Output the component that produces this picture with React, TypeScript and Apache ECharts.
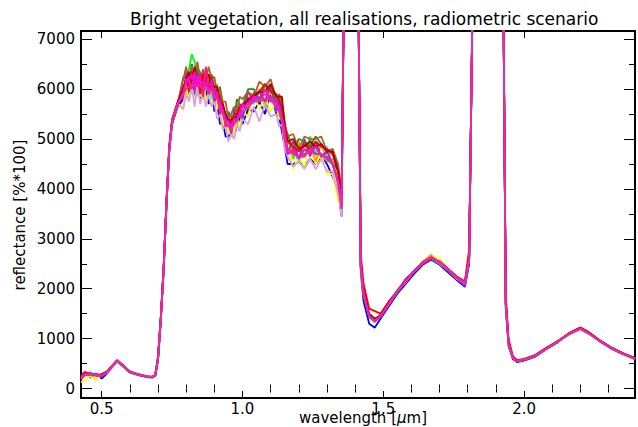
import React, { useEffect, useRef } from "react";
import * as echarts from "echarts";

const TITLE = "Bright vegetation, all realisations, radiometric scenario";
const Y_LABEL = "reflectance [%*100]";

const X_MAJOR = [0.5, 1.0, 1.5, 2.0];
const X_MINOR = [0.6, 0.7, 0.8, 0.9, 1.1, 1.2, 1.3, 1.4, 1.6, 1.7, 1.8, 1.9, 2.1, 2.2, 2.3];
const Y_MAJOR = [0, 1000, 2000, 3000, 4000, 5000, 6000, 7000];
const Y_MINOR = [500, 1500, 2500, 3500, 4500, 5500, 6500];

const WAVELENGTH = [
  0.427, 0.44, 0.46, 0.48, 0.5, 0.52, 0.54, 0.555, 0.57, 0.6, 0.63, 0.66, 0.68, 0.69,
  0.7, 0.71, 0.72, 0.73, 0.74, 0.75, 0.77,
  0.79, 0.8, 0.81, 0.82, 0.83, 0.84, 0.85, 0.86, 0.87, 0.88,
  0.89, 0.9, 0.91, 0.92, 0.93, 0.94, 0.95, 0.96, 0.97, 0.98,
  0.99, 1.0, 1.02, 1.04, 1.06, 1.08, 1.1, 1.12, 1.13, 1.14,
  1.15, 1.16, 1.18, 1.2, 1.22, 1.24, 1.26, 1.28, 1.3, 1.32,
  1.34, 1.352,
  1.362, 1.41,
  1.42, 1.43, 1.45, 1.47, 1.49, 1.52, 1.55, 1.58, 1.61, 1.64, 1.67, 1.7, 1.73, 1.76, 1.79, 1.805,
  1.82, 1.925,
  1.935, 1.945, 1.96, 1.975, 2.0, 2.04, 2.08, 2.12, 2.16, 2.2, 2.23, 2.27, 2.31, 2.35, 2.394,
];

const REAL_GREEN = [
  200, 250, 310, 290, 240, 320, 460, 550, 480, 350, 270, 240, 225, 255,
  580, 1380, 2380, 3680, 4780, 5320, 5680,
  6050, 5900, 6400, 6700, 6550, 6050, 6350, 6200, 5900, 6300,
  5950, 6100, 5800, 5950, 5400, 5500, 5050, 5400, 5300, 5650,
  5350, 5700, 5500, 5950, 5700, 6100, 5800, 5800, 5450, 5650,
  5000, 5100, 4600, 4900, 4650, 5050, 4700, 4900, 4550, 4600,
  4300, 3550,
  9000, 9000,
  2400, 1850, 1420, 1330, 1470, 1720, 1980, 2170, 2330, 2540, 2650, 2500, 2360, 2200, 2100, 2550,
  9000, 9000,
  1650, 880, 600, 540, 570, 650, 790, 930, 1090, 1200, 1100, 940, 800, 690, 590,
];

const REAL_BLUE = [
  240, 330, 220, 300, 200, 310, 450, 540, 470, 320, 270, 230, 220, 250,
  560, 1350, 2350, 3650, 4750, 5300, 5650,
  5800, 6250, 5800, 6500, 5850, 6250, 5750, 6350, 6000, 5700,
  6250, 5550, 5750, 5300, 5350, 5050, 5050, 5100, 5050, 5250,
  5450, 5300, 5600, 5550, 5750, 5500, 5950, 5500, 5450, 5150,
  4850, 4500, 4500, 4550, 4450, 4600, 4500, 4650, 4500, 4250,
  3950, 3450,
  9000, 9000,
  2350, 1750, 1300, 1220, 1400, 1650, 1900, 2100, 2300, 2480, 2580, 2480, 2330, 2180, 2040, 2500,
  9000, 9000,
  1600, 850, 590, 530, 560, 640, 790, 930, 1100, 1210, 1120, 960, 820, 710, 610,
];

const REAL_CYAN = [
  210, 270, 330, 260, 300, 340, 480, 560, 500, 340, 290, 250, 235, 265,
  620, 1420, 2420, 3720, 4820, 5360, 5720,
  6000, 5850, 6200, 5900, 6250, 5850, 6150, 5850, 6000, 6150,
  5800, 6000, 5650, 5750, 5300, 5550, 5100, 5300, 5250, 5600,
  5550, 5450, 5800, 5700, 6000, 5650, 6000, 5550, 5700, 5400,
  5150, 4700, 4850, 4500, 4900, 4700, 4800, 4600, 4850, 4450,
  4250, 3500,
  9000, 9000,
  2450, 1900, 1480, 1380, 1480, 1690, 1960, 2130, 2370, 2510, 2600, 2500, 2370, 2210, 2080, 2600,
  9000, 9000,
  1700, 900, 610, 550, 580, 660, 800, 950, 1100, 1200, 1100, 950, 810, 700, 600,
];

const REAL_YELLOW = [
  120, 180, 250, 170, 280, 320, 460, 550, 480, 330, 280, 240, 230, 255,
  590, 1390, 2390, 3690, 4790, 5340, 5690,
  5650, 6100, 5750, 6250, 5700, 6150, 5850, 6200, 5750, 5950,
  5650, 5950, 5600, 5700, 5250, 5500, 5100, 5200, 5050, 5450,
  5200, 5550, 5450, 5900, 5600, 5850, 5550, 5750, 5400, 5450,
  4800, 4900, 4400, 4650, 4450, 4800, 4500, 4700, 4300, 4300,
  3750, 3650,
  9000, 9000,
  2450, 1900, 1460, 1360, 1460, 1710, 1960, 2160, 2360, 2560, 2640, 2600, 2400, 2240, 2140, 2600,
  9000, 9000,
  1700, 900, 620, 560, 590, 670, 810, 950, 1110, 1220, 1110, 950, 810, 700, 600,
];

const REAL_ORANGE = [
  250, 300, 280, 270, 260, 340, 470, 560, 490, 340, 280, 245, 230, 260,
  610, 1410, 2410, 3710, 4810, 5360, 5710,
  6100, 6000, 6350, 6000, 6400, 6050, 6300, 5800, 6250, 6250,
  5900, 5950, 6100, 5600, 5700, 5250, 5450, 5050, 5450, 5300,
  5700, 5500, 5850, 5750, 6000, 5700, 5950, 5600, 5800, 5600,
  4950, 5050, 4650, 4950, 4650, 4950, 4550, 4900, 4600, 4750,
  4050, 3800,
  9000, 9000,
  2450, 1920, 1460, 1360, 1460, 1700, 1940, 2150, 2340, 2530, 2680, 2500, 2370, 2200, 2100, 2600,
  9000, 9000,
  1700, 900, 620, 550, 580, 660, 800, 940, 1100, 1210, 1110, 950, 810, 700, 600,
];

const REAL_PURPLE = [
  230, 280, 300, 270, 250, 320, 470, 560, 490, 340, 280, 240, 230, 260,
  600, 1400, 2400, 3700, 4800, 5350, 5700,
  5850, 6350, 6050, 6350, 5900, 6400, 5950, 6150, 6350, 5850,
  6150, 5700, 6050, 5550, 5650, 5300, 5500, 5100, 5600, 5350,
  5650, 5400, 5950, 5750, 5950, 5750, 6100, 5550, 5800, 5350,
  5300, 4750, 4950, 4600, 5000, 4650, 4950, 4650, 4750, 4500,
  4400, 3600,
  9000, 9000,
  2450, 1900, 1440, 1350, 1440, 1690, 1930, 2150, 2340, 2510, 2610, 2530, 2380, 2220, 2050, 2600,
  9000, 9000,
  1700, 900, 620, 550, 580, 660, 800, 940, 1100, 1210, 1110, 950, 810, 700, 600,
];

const REAL_PLUM = [
  250, 260, 300, 290, 270, 320, 460, 550, 490, 340, 285, 245, 230, 260,
  600, 1400, 2400, 3700, 4800, 5350, 5700,
  5600, 5900, 5750, 6050, 5650, 6100, 5700, 5950, 5650, 5900,
  5650, 5750, 5400, 5500, 5200, 5250, 4950, 5100, 5000, 5300,
  5150, 5400, 5300, 5650, 5350, 5700, 5450, 5500, 5250, 5300,
  4800, 4650, 4450, 4550, 4400, 4600, 4400, 4600, 4350, 4350,
  3900, 3450,
  9000, 9000,
  2400, 1880, 1440, 1340, 1440, 1690, 1940, 2140, 2340, 2510, 2610, 2520, 2380, 2210, 2110, 2600,
  9000, 9000,
  1690, 890, 610, 545, 575, 655, 795, 935, 1095, 1205, 1105, 945, 805, 695, 595,
];

const REAL_DARKGREEN = [
  270, 310, 280, 300, 250, 340, 470, 560, 490, 340, 280, 240, 230, 260,
  600, 1400, 2400, 3700, 4800, 5350, 5700,
  6250, 6200, 6050, 6500, 6100, 6450, 6300, 6000, 6400, 6050,
  6300, 6050, 5800, 6050, 5700, 5400, 5550, 5450, 5300, 5800,
  5700, 5650, 6000, 6000, 5800, 6100, 6000, 5750, 5850, 5650,
  5250, 5100, 4800, 5000, 4950, 4850, 5050, 4900, 4750, 4800,
  4400, 3800,
  9000, 9000,
  2450, 1900, 1450, 1350, 1450, 1700, 1950, 2150, 2350, 2520, 2620, 2520, 2380, 2220, 2120, 2600,
  9000, 9000,
  1700, 900, 620, 550, 580, 660, 800, 940, 1100, 1210, 1110, 950, 810, 700, 600,
];

const REAL_BROWN = [
  220, 290, 290, 280, 260, 330, 470, 560, 490, 340, 280, 240, 230, 260,
  600, 1400, 2400, 3700, 4800, 5350, 5700,
  6200, 6450, 6150, 6450, 6300, 6550, 6150, 6400, 6200, 6450,
  6200, 6250, 5900, 6000, 5750, 5750, 5400, 5500, 5650, 5550,
  5850, 5800, 5950, 5850, 6150, 6050, 6200, 5800, 5900, 5750,
  5350, 5050, 5100, 4800, 5050, 5000, 5000, 5050, 4750, 4800,
  4500, 3850,
  9000, 9000,
  2450, 1900, 1460, 1360, 1460, 1700, 1950, 2150, 2350, 2520, 2620, 2520, 2380, 2220, 2120, 2600,
  9000, 9000,
  1700, 900, 620, 550, 580, 660, 800, 940, 1100, 1210, 1110, 950, 810, 700, 600,
];

const REAL_RED = [
  260, 330, 300, 250, 290, 350, 480, 570, 500, 330, 290, 250, 240, 270,
  650, 1450, 2450, 3800, 4900, 5400, 5750,
  6050, 6200, 5950, 6350, 6100, 6250, 5900, 6300, 6150, 6000,
  6250, 5850, 6000, 5800, 5700, 5450, 5400, 5300, 5500, 5500,
  5650, 5700, 5750, 5900, 5950, 6100, 5950, 5900, 5750, 5650,
  5300, 4950, 4850, 4750, 4900, 4800, 4950, 4850, 4800, 4700,
  4350, 3900,
  9000, 9000,
  2700, 2100, 1600, 1550, 1500, 1750, 1950, 2200, 2350, 2500, 2600, 2550, 2400, 2250, 2150, 2800,
  9000, 9000,
  1900, 1000, 650, 570, 590, 670, 820, 950, 1110, 1220, 1130, 960, 800, 700, 600,
];

const REAL_DARKRED = [
  240, 290, 300, 280, 270, 330, 470, 560, 490, 340, 280, 240, 230, 260,
  620, 1420, 2420, 3720, 4820, 5370, 5720,
  6000, 6200, 6350, 6100, 6450, 6050, 6300, 6100, 6200, 6300,
  6000, 6050, 6050, 5700, 5700, 5500, 5350, 5400, 5400, 5450,
  5600, 5650, 5800, 5850, 5950, 5950, 6100, 5850, 5850, 5850,
  5250, 4950, 5000, 4800, 4850, 4950, 4850, 4900, 4750, 4750,
  4350, 3850,
  9000, 9000,
  2500, 1950, 1500, 1400, 1470, 1710, 1960, 2160, 2360, 2530, 2630, 2530, 2390, 2230, 2130, 2650,
  9000, 9000,
  1750, 920, 630, 560, 590, 670, 810, 950, 1110, 1220, 1120, 960, 820, 710, 610,
];

const REAL_HOTPINK = [
  200, 270, 290, 290, 260, 330, 470, 560, 490, 340, 280, 240, 230, 260,
  600, 1400, 2400, 3700, 4800, 5350, 5700,
  5900, 6200, 6200, 6000, 6350, 6100, 6300, 5850, 6450, 5900,
  6200, 5800, 5950, 5500, 5600, 5250, 5300, 5150, 5400, 5400,
  5550, 5700, 5600, 5850, 5750, 6000, 5750, 5750, 5550, 5450,
  5200, 4700, 4800, 4600, 4800, 4700, 4850, 4650, 4650, 4500,
  4150, 3650,
  9000, 9000,
  2450, 1900, 1450, 1350, 1450, 1700, 1950, 2150, 2350, 2520, 2620, 2520, 2380, 2220, 2120, 2600,
  9000, 9000,
  1700, 900, 620, 550, 580, 660, 800, 940, 1100, 1210, 1110, 950, 810, 700, 600,
];

const REAL_MAGENTA = [
  180, 300, 280, 290, 250, 330, 470, 570, 490, 340, 280, 240, 230, 260,
  600, 1400, 2400, 3700, 4800, 5350, 5700,
  5950, 6150, 6150, 6300, 6100, 6250, 6100, 6150, 6050, 6100,
  6100, 5950, 5850, 5750, 5550, 5400, 5350, 5250, 5400, 5400,
  5500, 5650, 5700, 5850, 5800, 5900, 5850, 5750, 5600, 5350,
  5000, 4700, 4750, 4650, 4650, 4800, 4700, 4700, 4600, 4500,
  4150, 3700,
  9000, 9000,
  2450, 1900, 1450, 1340, 1440, 1700, 1950, 2180, 2340, 2540, 2620, 2540, 2390, 2230, 2130, 2600,
  9000, 9000,
  1700, 900, 620, 550, 580, 650, 800, 940, 1090, 1190, 1100, 940, 800, 700, 590,
];

const REAL_PINK = [
  230, 280, 290, 270, 250, 330, 470, 560, 490, 340, 280, 240, 230, 260,
  600, 1400, 2400, 3700, 4800, 5350, 5700,
  5900, 6000, 6050, 6100, 6050, 6100, 6050, 6000, 6000, 5950,
  6000, 5850, 5800, 5650, 5500, 5350, 5250, 5200, 5300, 5400,
  5450, 5550, 5650, 5750, 5750, 5800, 5800, 5650, 5550, 5400,
  5000, 4800, 4700, 4650, 4700, 4750, 4700, 4700, 4600, 4500,
  4100, 3600,
  9000, 9000,
  2450, 1900, 1450, 1360, 1450, 1690, 1950, 2150, 2350, 2510, 2610, 2520, 2380, 2220, 2110, 2600,
  9000, 9000,
  1700, 900, 620, 550, 580, 660, 800, 940, 1100, 1200, 1100, 950, 810, 700, 600,
];

const REALISATIONS = [
  { name: "green", color: "#00ff00", values: REAL_GREEN },
  { name: "blue", color: "#0000ff", values: REAL_BLUE },
  { name: "cyan", color: "#00ffff", values: REAL_CYAN },
  { name: "yellow", color: "#ffff00", values: REAL_YELLOW },
  { name: "orange", color: "#ff9900", values: REAL_ORANGE },
  { name: "purple", color: "#a020f0", values: REAL_PURPLE },
  { name: "plum", color: "#dda0dd", values: REAL_PLUM },
  { name: "darkgreen", color: "#228b22", values: REAL_DARKGREEN },
  { name: "brown", color: "#b0602d", values: REAL_BROWN },
  { name: "red", color: "#ff0000", values: REAL_RED },
  { name: "darkred", color: "#b00000", values: REAL_DARKRED },
  { name: "hotpink", color: "#ff1493", values: REAL_HOTPINK },
  { name: "magenta", color: "#ff00ff", values: REAL_MAGENTA },
  { name: "pink", color: "#e0309a", values: REAL_PINK },
];

const FONT = "DejaVu Sans";

export default function App() {
  const ref = useRef<HTMLDivElement>(null);
  useEffect(() => {
    if (!ref.current) return;
    const chart = echarts.init(ref.current, undefined, { renderer: "svg" });
    const xMin = 0.4265;
    const xMax = 2.394;
    const yMin = -190;
    const yMax = 7165;
    const axisLine = { show: true, onZero: false, lineStyle: { color: "#000", width: 2 } };
    const noLine = { show: false };
    const baseX = { type: "value", min: xMin, max: xMax, splitLine: { show: false } };
    const baseY = { type: "value", min: yMin, max: yMax, splitLine: { show: false } };
    chart.setOption({
      animation: false,
      backgroundColor: "#fff",
      title: {
        text: TITLE,
        left: 130,
        top: 10,
        padding: 0,
        textStyle: { fontFamily: FONT, fontSize: 17, fontWeight: "normal", color: "#000" },
      },
      grid: { left: 81, right: 3, top: 31, bottom: 29, containLabel: false },
      xAxis: [
        {
          ...baseX,
          position: "bottom",
          axisLine,
          axisTick: { show: true, inside: true, length: 7, customValues: X_MAJOR, lineStyle: { color: "#000", width: 1 } },
          axisLabel: {
            show: true,
            customValues: X_MAJOR,
            margin: 3,
            formatter: (v: number) => v.toFixed(1),
            fontFamily: FONT,
            fontSize: 15,
            color: "#000",
          },
        },
        {
          ...baseX,
          position: "bottom",
          axisLine: noLine,
          axisTick: { show: true, inside: true, length: 4, customValues: X_MINOR, lineStyle: { color: "#000", width: 1 } },
          axisLabel: { show: false },
        },
        {
          ...baseX,
          position: "top",
          axisLine,
          axisTick: { show: true, inside: true, length: 7, customValues: X_MAJOR, lineStyle: { color: "#000", width: 1 } },
          axisLabel: { show: false },
        },
        {
          ...baseX,
          position: "top",
          axisLine: noLine,
          axisTick: { show: true, inside: true, length: 4, customValues: X_MINOR, lineStyle: { color: "#000", width: 1 } },
          axisLabel: { show: false },
        },
      ],
      yAxis: [
        {
          ...baseY,
          position: "left",
          axisLine,
          axisTick: { show: true, inside: true, length: 11, customValues: Y_MAJOR, lineStyle: { color: "#000", width: 1 } },
          axisLabel: {
            show: true,
            customValues: Y_MAJOR,
            margin: 6,
            formatter: (v: number) => String(v),
            fontFamily: FONT,
            fontSize: 15,
            color: "#000",
          },
        },
        {
          ...baseY,
          position: "left",
          axisLine: noLine,
          axisTick: { show: true, inside: true, length: 6, customValues: Y_MINOR, lineStyle: { color: "#000", width: 1 } },
          axisLabel: { show: false },
        },
        {
          ...baseY,
          position: "right",
          axisLine,
          axisTick: { show: true, inside: true, length: 11, customValues: Y_MAJOR, lineStyle: { color: "#000", width: 1 } },
          axisLabel: { show: false },
        },
        {
          ...baseY,
          position: "right",
          axisLine: noLine,
          axisTick: { show: true, inside: true, length: 6, customValues: Y_MINOR, lineStyle: { color: "#000", width: 1 } },
          axisLabel: { show: false },
        },
      ],
      graphic: [
        {
          type: "text",
          x: 20,
          y: 215,
          rotation: Math.PI / 2,
          style: {
            text: Y_LABEL,
            fontFamily: FONT,
            fontSize: 15,
            fill: "#000",
            textAlign: "center",
            textVerticalAlign: "middle",
          },
        },
        {
          type: "text",
          x: 363,
          y: 410,
          style: {
            text: "wavelength [{m|μ}m]",
            fontFamily: FONT,
            fontSize: 15,
            fill: "#000",
            textAlign: "center",
            textVerticalAlign: "top",
            rich: { m: { fontFamily: FONT, fontSize: 15, fontStyle: "italic", fill: "#000" } },
          },
        },
      ],
      series: REALISATIONS.map((r) => ({
        name: r.name,
        type: "line",
        xAxisIndex: 0,
        yAxisIndex: 0,
        showSymbol: false,
        symbol: "none",
        clip: true,
        lineStyle: { color: r.color, width: 1.8 },
        data: WAVELENGTH.map((w, i) => [w, r.values[i]]),
      })),
    });
    return () => chart.dispose();
  }, []);
  return (
    <div
      ref={ref}
      style={{ position: "fixed", left: 0, top: 0, width: 638, height: 427, background: "#fff" }}
    />
  );
}
